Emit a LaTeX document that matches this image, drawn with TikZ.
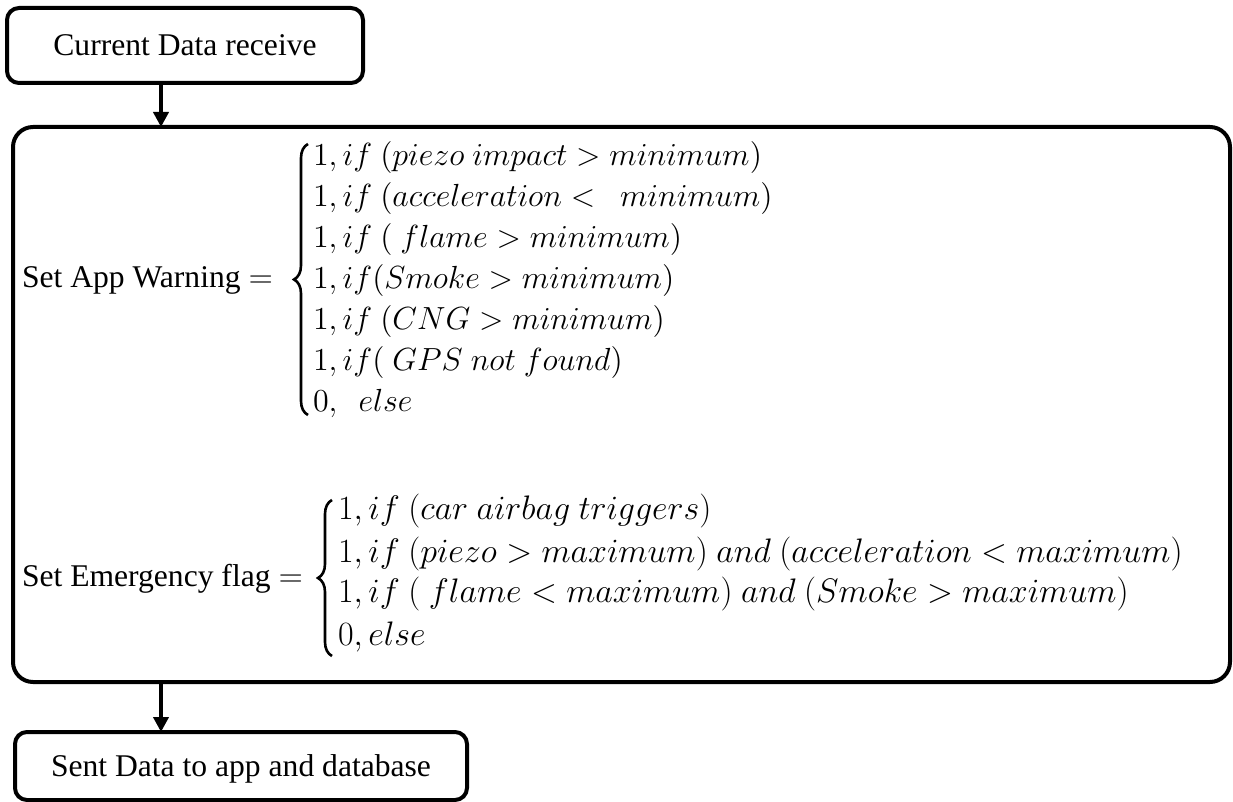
\RequirePackage{fix-cm}
\documentclass[tikz,border=0pt]{standalone}
\usepackage{fontspec}
\setmainfont{Liberation Serif}
\usetikzlibrary{arrows.meta,decorations.pathreplacing}

\begin{document}
\begin{tikzpicture}[x=0.5pt,y=-0.5pt,
  every node/.style={inner sep=0pt, outer sep=0pt},
  txt/.style={font=\fontsize{15.8}{19}\selectfont},
  wmath/.style={font=\fontsize{16}{19}\selectfont},
  emath/.style={font=\fontsize{17}{20}\selectfont},
  flowbox/.style={draw, line width=2pt, txt, align=center, text depth=0pt},
  wrow/.style={wmath, anchor=base west},
  erow/.style={emath, anchor=base west},
  lbl/.style={txt, anchor=base west},
  curly/.style={decorate, line width=1.3pt,
    decoration={brace, amplitude=7pt, aspect=0.5}},
  flow/.style={line width=2pt, -{Triangle[width=7.5pt,length=7.5pt]}}
]
\useasboundingbox (0,0) rectangle (1233,802);

% process boxes
\node[flowbox, rounded corners=6pt, minimum width=178pt, minimum height=37.5pt]
  (recv) at (185,45.5) {Current Data receive};
\node[draw, line width=2pt, rounded corners=10pt, minimum width=608.5pt, minimum height=277.5pt]
  (logic) at (621.5,404.5) {};
\node[flowbox, rounded corners=6pt, minimum width=226pt, minimum height=34pt]
  (send) at (241,766) {Sent Data to app and database};

% connectors
\coordinate (ax) at (161,0);
\draw[flow] (recv.south -| ax) -- (logic.north -| ax);
\draw[flow] (logic.south -| ax) -- (send.north -| ax);

% app warning rule
\node[lbl] (wlbl) at (22,288) {Set App Warning \fontsize{16}{19}\selectfont$=$};
\coordinate (wb1) at (308,415);
\coordinate (wb2) at (308,144);
\draw[curly] (wb1) -- (wb2);
\node[wrow] (w1) at (313,166) {$1, if\ (piezo\ impact > minimum)$};
\node[wrow] (w2) at (313,207) {$1, if\ (acceleration <\ \ minimum)$};
\node[wrow] (w3) at (313,248) {$1, if\ (\ flame > minimum)$};
\node[wrow] (w4) at (313,289) {$1, if(Smoke > minimum)$};
\node[wrow] (w5) at (313,330) {$1, if\ (CNG > minimum)$};
\node[wrow] (w6) at (313,371) {$1, if(\ GPS\ not\ found)$};
\node[wrow] (w7) at (313,412) {$0,\ \ else$};

% emergency flag rule
\node[lbl] (elbl) at (22,587) {Set Emergency flag \fontsize{16}{19}\selectfont$=$};
\coordinate (eb1) at (332,656);
\coordinate (eb2) at (332,500);
\draw[curly] (eb1) -- (eb2);
\node[erow] (e1) at (338,520) {$1, if\ (car\ airbag\ triggers)$};
\node[erow] (e2) at (338,562) {$1, if\ (piezo > maximum)\ and\ (acceleration < maximum)$};
\node[erow] (e3) at (338,603) {$1, if\ (\ flame < maximum)\ and\ (Smoke > maximum)$};
\node[erow] (e4) at (338,645) {$0, else$};
\end{tikzpicture}
\end{document}
